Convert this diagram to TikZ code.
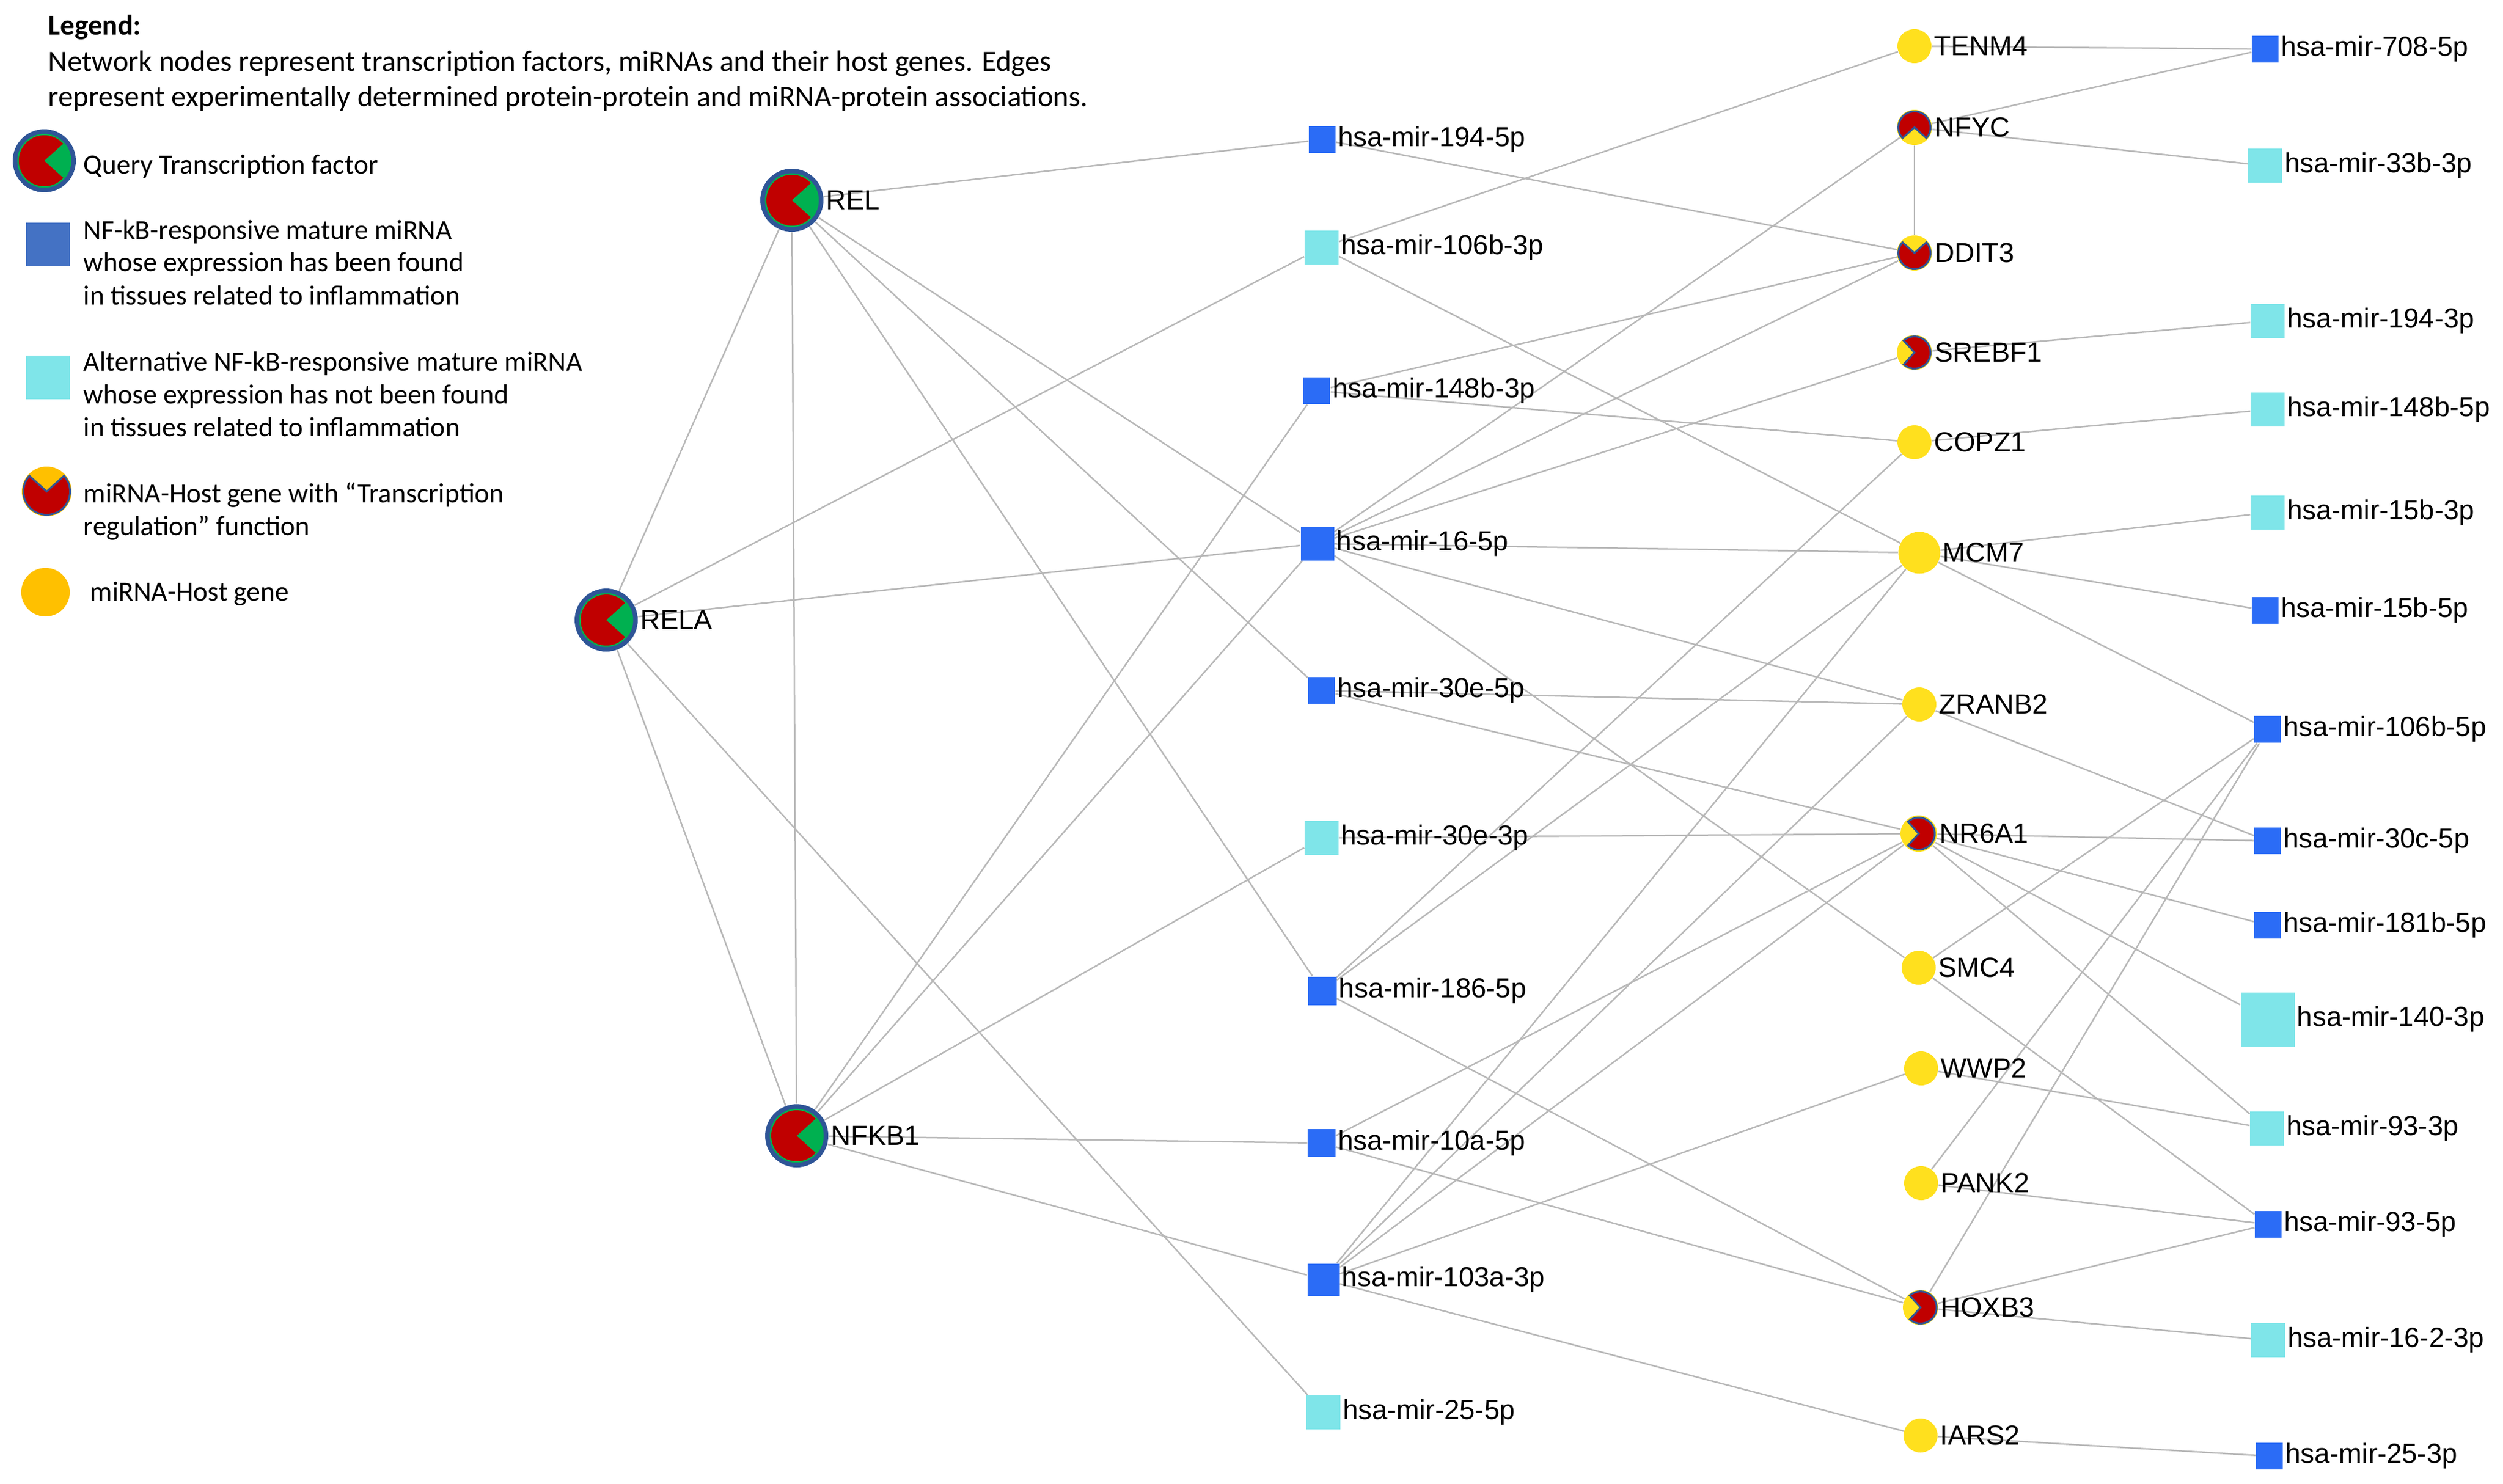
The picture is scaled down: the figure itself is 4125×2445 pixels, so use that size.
\documentclass[tikz,border=0pt]{standalone}
\usepackage{fontspec}
\setmainfont{Carlito}
\newfontfamily\labelfont{Liberation Sans}
\usetikzlibrary{backgrounds}

\definecolor{tfred}{RGB}{192,0,0}
\definecolor{tfgreen}{RGB}{0,176,80}
\definecolor{ringblue}{RGB}{47,85,151}
\definecolor{mirblue}{RGB}{43,108,246}
\definecolor{legendblue}{RGB}{68,114,196}
\definecolor{altmircyan}{RGB}{127,229,233}
\definecolor{hostyellow}{RGB}{255,224,30}
\definecolor{legendyellow}{RGB}{255,192,0}
\definecolor{edgegray}{RGB}{184,184,184}

\tikzset{trradius/.store in = \trradius, trradius = 2.65mm}

\begin{document}
\begin{tikzpicture}
	[
	x = {(0.1mm, 0mm)},
	y = {(0mm, -0.1mm)},
	edge/.style = {color = edgegray, line width = 0.25mm},
	every label/.style = {font = \labelfont\fontsize{12.95}{14}\selectfont, inner sep = 0.3mm},
	legendtext/.style = {anchor = base west, inner sep = 0pt, font = \fontsize{13}{15.4}\selectfont},
	headtext/.style = {anchor = base west, inner sep = 0pt, font = \fontsize{13.9}{16}\selectfont},
	tfvertex/.style = {circle, inner sep = 0pt, minimum size = 10.4mm, fill = ringblue, label distance = 0.2mm,
		path picture = {
			\fill[tfgreen] (path picture bounding box.center) circle (4.45mm);
			\fill[tfred] (path picture bounding box.center) -- ++(42:4.2mm)
				arc[start angle = 42, end angle = 318, radius = 4.2mm] -- cycle;
			\begin{scope}
				\clip (path picture bounding box.center) circle (4.2mm);
				\fill[tfgreen] ([xshift = 0.9mm]path picture bounding box.center) -- ++(42:6mm) -- ++(0mm, -8mm) -- cycle;
			\end{scope}}},
	hostvertex/.style = {circle, inner sep = 0pt, minimum size = 5.6mm, fill = hostyellow, label distance = 0mm},
	trvertex/.style = {circle, inner sep = 0pt, minimum size = 5.8mm, fill = hostyellow, label distance = 0mm,
		path picture = {
			\filldraw[fill = tfred, draw = ringblue, line width = 0.3mm]
				(path picture bounding box.center) -- ++(#1+48:\trradius)
				arc[start angle = #1+48, end angle = #1+312, radius = \trradius] -- cycle;}},
	mirvertex/.style = {rectangle, inner sep = 0pt, minimum size = 4.4mm, fill = mirblue, label distance = 0.8mm},
	altmirvertex/.style = {rectangle, inner sep = 0pt, minimum size = 5.6mm, fill = altmircyan, label distance = 0.8mm}]
	
	\useasboundingbox (0,0) rectangle (4125,2445);
	
	%% Legend
	
	\node[headtext, font = \bfseries\fontsize{13.4}{16}\selectfont] (legtitle) at (79,57) {Legend:};
	\node[headtext] (legline1) at (79,117) {Network nodes represent transcription factors, miRNAs and their host genes. Edges};
	\node[headtext] (legline2) at (79,175) {represent experimentally determined protein-protein and miRNA-protein associations.};
	
	\node[tfvertex] (legtf) at (73,265) {};
	\node[legendtext] (legtftext) at (137,286) {Query Transcription factor};
	
	\node[mirvertex, minimum size = 7.2mm, fill = legendblue] (legmir) at (79,403) {};
	\node[legendtext] (legmirtext1) at (137,394) {NF-kB-responsive mature miRNA};
	\node[legendtext] (legmirtext2) at (137,447) {whose expression has been found};
	\node[legendtext] (legmirtext3) at (137,502) {in tissues related to inflammation};
	
	\node[altmirvertex, minimum size = 7.2mm] (legaltmir) at (79,622) {};
	\node[legendtext] (legaltmirtext1) at (137,611) {Alternative NF-kB-responsive mature miRNA};
	\node[legendtext] (legaltmirtext2) at (137,665) {whose expression has not been found};
	\node[legendtext] (legaltmirtext3) at (137,719) {in tissues related to inflammation};
	
	\node[trvertex = 90, fill = legendyellow, minimum size = 8.2mm, trradius = 3.85mm] (legtr) at (77,810) {};
	\node[legendtext] (legtrtext1) at (137,828) {miRNA-Host gene with “Transcription};
	\node[legendtext] (legtrtext2) at (137,882) {regulation” function};
	
	\node[hostvertex, minimum size = 8mm, fill = legendyellow] (leghost) at (75,976) {};
	\node[legendtext] (leghosttext) at (148,990) {miRNA-Host gene};
	
	%% Transcription factors
	
	\node[tfvertex, label = {right:REL}] (rel) at (1305,330) {};
	\node[tfvertex, label = {right:RELA}] (rela) at (999,1022) {};
	\node[tfvertex, label = {right:NFKB1}] (nfkb1) at (1313,1872) {};
	
	%% Mature miRNAs, middle column
	
	\node[mirvertex, label = {right:hsa-mir-194-5p}] (mir1945p) at (2179,230) {};
	\node[altmirvertex, label = {right:hsa-mir-106b-3p}] (mir106b3p) at (2178,408) {};
	\node[mirvertex, label = {right:hsa-mir-148b-3p}] (mir148b3p) at (2170,644) {};
	\node[mirvertex, minimum size = 5.5mm, label = {right:hsa-mir-16-5p}] (mir165p) at (2171,896) {};
	\node[mirvertex, label = {right:hsa-mir-30e-5p}] (mir30e5p) at (2178,1138) {};
	\node[altmirvertex, label = {right:hsa-mir-30e-3p}] (mir30e3p) at (2178,1381) {};
	\node[mirvertex, minimum size = 4.7mm, label = {right:hsa-mir-186-5p}] (mir1865p) at (2179,1633) {};
	\node[mirvertex, minimum size = 4.6mm, label = {right:hsa-mir-10a-5p}] (mir10a5p) at (2178,1884) {};
	\node[mirvertex, minimum size = 5.3mm, label = {right:hsa-mir-103a-3p}] (mir103a3p) at (2181,2109) {};
	\node[altmirvertex, label = {right:hsa-mir-25-5p}] (mir255p) at (2181,2328) {};
	
	%% Host genes
	
	\node[hostvertex, label = {right:TENM4}] (tenm4) at (3155,76) {};
	\node[trvertex = 270, label = {right:NFYC}] (nfyc) at (3155,210) {};
	\node[trvertex = 90, label = {right:DDIT3}] (ddit3) at (3155,417) {};
	\node[trvertex = 180, label = {right:SREBF1}] (srebf1) at (3155,581) {};
	\node[hostvertex, label = {right:COPZ1}] (copz1) at (3155,729) {};
	\node[hostvertex, minimum size = 6.9mm, label = {right:MCM7}] (mcm7) at (3163,911) {};
	\node[hostvertex, label = {right:ZRANB2}] (zranb2) at (3163,1161) {};
	\node[trvertex = 180, minimum size = 6mm, label = {right:NR6A1}] (nr6a1) at (3162,1374) {};
	\node[hostvertex, label = {right:SMC4}] (smc4) at (3162,1595) {};
	\node[hostvertex, label = {right:WWP2}] (wwp2) at (3166,1761) {};
	\node[hostvertex, label = {right:PANK2}] (pank2) at (3166,1950) {};
	\node[trvertex = 180, label = {right:HOXB3}] (hoxb3) at (3165,2155) {};
	\node[hostvertex, label = {right:IARS2}] (iars2) at (3165,2366) {};
	
	%% Mature miRNAs, right column
	
	\node[mirvertex, label = {right:hsa-mir-708-5p}] (mir7085p) at (3733,81) {};
	\node[altmirvertex, label = {right:hsa-mir-33b-3p}] (mir33b3p) at (3733,273) {};
	\node[altmirvertex, label = {right:hsa-mir-194-3p}] (mir1943p) at (3737,529) {};
	\node[altmirvertex, label = {right:hsa-mir-148b-5p}] (mir148b5p) at (3737,675) {};
	\node[altmirvertex, label = {right:hsa-mir-15b-3p}] (mir15b3p) at (3737,845) {};
	\node[mirvertex, label = {right:hsa-mir-15b-5p}] (mir15b5p) at (3733,1006) {};
	\node[mirvertex, label = {right:hsa-mir-106b-5p}] (mir106b5p) at (3737,1202) {};
	\node[mirvertex, label = {right:hsa-mir-30c-5p}] (mir30c5p) at (3737,1386) {};
	\node[mirvertex, label = {right:hsa-mir-181b-5p}] (mir181b5p) at (3737,1525) {};
	\node[altmirvertex, minimum size = 8.9mm, label = {right:hsa-mir-140-3p}] (mir1403p) at (3737,1680) {};
	\node[altmirvertex, label = {right:hsa-mir-93-3p}] (mir933p) at (3736,1860) {};
	\node[mirvertex, label = {right:hsa-mir-93-5p}] (mir935p) at (3738,2018) {};
	\node[altmirvertex, label = {right:hsa-mir-16-2-3p}] (mir1623p) at (3738,2209) {};
	\node[mirvertex, label = {right:hsa-mir-25-3p}] (mir253p) at (3740,2400) {};
	
	%% Drawing the edges behind the nodes
	
	\begin{scope}[on background layer]
		\draw[edge] (rel) -- (rela);
		\draw[edge] (rel) -- (nfkb1);
		\draw[edge] (rela) -- (nfkb1);
		\draw[edge] (rel) -- (mir1945p);
		\draw[edge] (rel) -- (mir165p);
		\draw[edge] (rel) -- (mir30e5p);
		\draw[edge] (rel) -- (mir1865p);
		\draw[edge] (rela) -- (mir106b3p);
		\draw[edge] (rela) -- (mir165p);
		\draw[edge] (rela) -- (mir255p);
		\draw[edge] (nfkb1) -- (mir148b3p);
		\draw[edge] (nfkb1) -- (mir165p);
		\draw[edge] (nfkb1) -- (mir30e3p);
		\draw[edge] (nfkb1) -- (mir10a5p);
		\draw[edge] (nfkb1) -- (mir103a3p);
		
		\draw[edge] (mir1945p) -- (ddit3);
		\draw[edge] (mir106b3p) -- (tenm4);
		\draw[edge] (mir106b3p) -- (mcm7);
		\draw[edge] (mir148b3p) -- (ddit3);
		\draw[edge] (mir148b3p) -- (copz1);
		\draw[edge] (mir165p) -- (nfyc);
		\draw[edge] (mir165p) -- (ddit3);
		\draw[edge] (mir165p) -- (srebf1);
		\draw[edge] (mir165p) -- (mcm7);
		\draw[edge] (mir165p) -- (zranb2);
		\draw[edge] (mir165p) -- (smc4);
		\draw[edge] (mir30e5p) -- (zranb2);
		\draw[edge] (mir30e5p) -- (nr6a1);
		\draw[edge] (mir30e3p) -- (nr6a1);
		\draw[edge] (mir1865p) -- (copz1);
		\draw[edge] (mir1865p) -- (mcm7);
		\draw[edge] (mir1865p) -- (hoxb3);
		\draw[edge] (mir10a5p) -- (nr6a1);
		\draw[edge] (mir10a5p) -- (hoxb3);
		\draw[edge] (mir103a3p) -- (mcm7);
		\draw[edge] (mir103a3p) -- (zranb2);
		\draw[edge] (mir103a3p) -- (nr6a1);
		\draw[edge] (mir103a3p) -- (wwp2);
		\draw[edge] (mir103a3p) -- (iars2);
		
		\draw[edge] (tenm4) -- (mir7085p);
		\draw[edge] (nfyc) -- (mir7085p);
		\draw[edge] (nfyc) -- (mir33b3p);
		\draw[edge] (nfyc) -- (ddit3);
		\draw[edge] (srebf1) -- (mir1943p);
		\draw[edge] (copz1) -- (mir148b5p);
		\draw[edge] (mcm7) -- (mir15b3p);
		\draw[edge] (mcm7) -- (mir15b5p);
		\draw[edge] (mcm7) -- (mir106b5p);
		\draw[edge] (zranb2) -- (mir30c5p);
		\draw[edge] (nr6a1) -- (mir30c5p);
		\draw[edge] (nr6a1) -- (mir181b5p);
		\draw[edge] (nr6a1) -- (mir1403p);
		\draw[edge] (nr6a1) -- (mir933p);
		\draw[edge] (smc4) -- (mir106b5p);
		\draw[edge] (smc4) -- (mir935p);
		\draw[edge] (wwp2) -- (mir933p);
		\draw[edge] (pank2) -- (mir935p);
		\draw[edge] (pank2) -- (mir106b5p);
		\draw[edge] (hoxb3) -- (mir106b5p);
		\draw[edge] (hoxb3) -- (mir935p);
		\draw[edge] (hoxb3) -- (mir1623p);
		\draw[edge] (iars2) -- (mir253p);
	\end{scope}
\end{tikzpicture}
\end{document}
